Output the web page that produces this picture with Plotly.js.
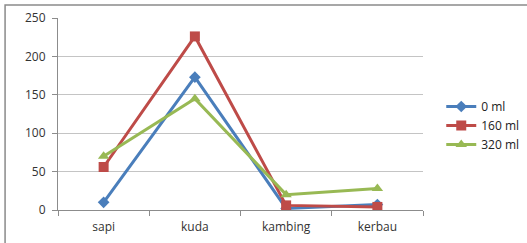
<!DOCTYPE html>
<html><head><meta charset="utf-8">
<script src="https://cdn.plot.ly/plotly-3.0.1.min.js"></script>
<style>html,body{margin:0;padding:0;background:#fff}#c{width:527px;height:243px}</style>
</head><body><div id="c"></div>
<script>
const categories = ["sapi", "kuda", "kambing", "kerbau"];
const series0 = [10, 173, 2, 7];
const series160 = [56, 226, 6, 4];
const series320 = [70, 145, 20, 28];
const seriesNames = ["0 ml", "160 ml", "320 ml"];

const traces = [
  {x: categories, y: series0, name: seriesNames[0], type: "scatter", mode: "lines+markers",
   line: {color: "#4a7ebb", width: 3}, marker: {symbol: "diamond", size: 9, color: "#4a7ebb"}},
  {x: categories, y: series160, name: seriesNames[1], type: "scatter", mode: "lines+markers",
   line: {color: "#be4b48", width: 3}, marker: {symbol: "square", size: 10, color: "#be4b48"}},
  {x: categories, y: series320, name: seriesNames[2], type: "scatter", mode: "lines+markers",
   line: {color: "#98b954", width: 3}, marker: {symbol: "triangle-up", size: 10, color: "#98b954"}}
];

const layout = {
  width: 527, height: 243,
  margin: {l: 58, r: 104, t: 18, b: 33, autoexpand: false},
  paper_bgcolor: "#fff", plot_bgcolor: "#fff",
  font: {family: "Open Sans, Liberation Sans, Arial, sans-serif", size: 12, color: "#333"},
  showlegend: true,
  legend: {x: 1.05, y: 0.44, xanchor: "left", yanchor: "middle", font: {size: 12, color: "#222"},
           tracegroupgap: 0, itemwidth: 30, bgcolor: "rgba(0,0,0,0)"},
  xaxis: {type: "category", range: [-0.5, 3.5], showgrid: false, showline: true, linecolor: "#8c8c8c", linewidth: 1,
          ticks: "outside", tickson: "boundaries", ticklen: 5, tickcolor: "#8c8c8c",
          tickfont: {size: 12, color: "#333"}, zeroline: false, ticklabelstandoff: 6},
  yaxis: {range: [0, 250], dtick: 50, showgrid: true, gridcolor: "#c4c4c4", gridwidth: 1,
          showline: true, linecolor: "#8c8c8c", ticks: "outside", ticklen: 5, tickcolor: "#8c8c8c",
          tickfont: {size: 12, color: "#333"}, zeroline: false, ticklabelstandoff: 4},
  shapes: [{type: "rect", xref: "paper", yref: "paper", x0: -0.145, x1: 1.4, y0: -0.5, y1: 1.068,
            line: {color: "#8a8a8a", width: 1.5}, fillcolor: "rgba(0,0,0,0)"}]
};
Plotly.newPlot("c", traces, layout, {displayModeBar: false, staticPlot: true});
</script></body></html>
